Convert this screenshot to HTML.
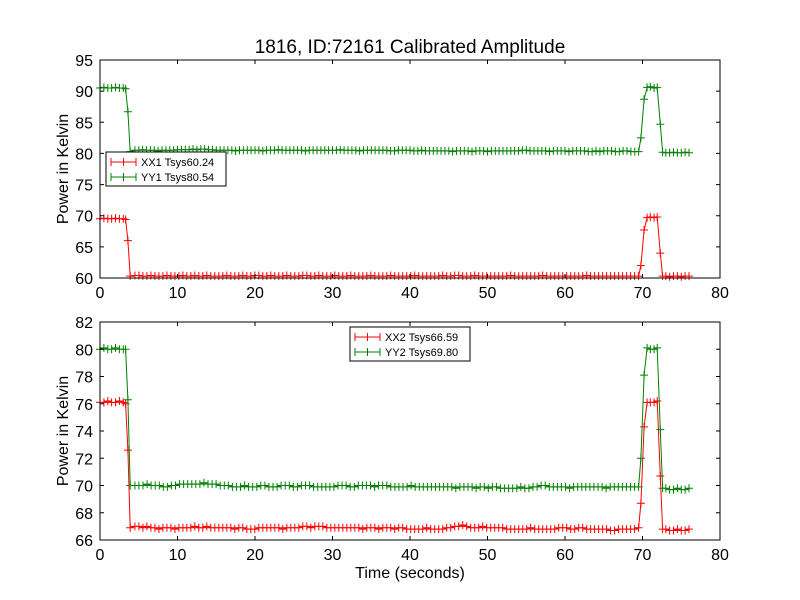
<!DOCTYPE html>
<html><head><meta charset="utf-8"><style>
body{margin:0;background:#fff}
svg{display:block;font-family:"Liberation Sans",sans-serif}
</style></head><body>
<svg id="c" width="800" height="600"></svg>
<script>
const tHead=[0,0.5,1,1.5,2,2.5,3,3.3,3.6,3.9];
const tTail=[69.8,70.2,70.6,71.0,71.5,71.9,72.3,72.6,73,73.5,74,74.5,75,75.5,76];
const tMidStart=4.5, tMidEnd=69.5;
const xx1=[69.5,69.6,69.5,69.5,69.6,69.5,69.5,69.4,66.0,60.3,
60.4,60.4,60.3,60.3,60.4,60.3,60.3,60.3,60.4,60.3,60.3,60.3,60.4,60.3,60.3,60.4,60.3,60.3,60.4,60.3,60.3,60.3,60.3,60.4,60.3,60.3,60.3,60.4,60.3,60.3,60.4,60.4,60.3,60.3,60.4,60.3,60.3,60.3,60.4,60.3,60.3,60.3,60.4,60.4,60.3,60.3,60.4,60.3,60.3,60.3,60.4,60.3,60.3,60.3,60.4,60.3,60.3,60.3,60.3,60.4,60.3,60.3,60.3,60.3,60.4,60.3,60.3,60.3,60.3,60.3,60.4,60.3,60.3,60.3,60.3,60.3,60.3,60.4,60.3,60.3,60.4,60.4,60.3,60.3,60.3,60.4,60.3,60.3,60.3,60.3,60.3,60.3,60.3,60.3,60.4,60.3,60.3,60.3,60.3,60.3,60.3,60.3,60.4,60.3,60.3,60.3,60.3,60.3,60.3,60.3,60.3,60.3,60.3,60.4,60.3,60.3,60.3,60.3,60.3,60.3,60.3,60.3,60.3,60.3,60.3,60.3,60.3,
62.0,67.7,69.7,69.8,69.7,69.8,64.0,60.3,60.3,60.2,60.3,60.3,60.2,60.3,60.3];
const yy1=[90.5,90.6,90.5,90.5,90.6,90.5,90.5,90.4,86.7,80.3,
80.5,80.5,80.6,80.5,80.5,80.5,80.4,80.5,80.5,80.5,80.5,80.6,80.6,80.6,80.6,80.7,80.6,80.7,80.7,80.6,80.6,80.5,80.5,80.5,80.5,80.5,80.4,80.5,80.5,80.5,80.5,80.5,80.5,80.4,80.5,80.5,80.5,80.6,80.5,80.5,80.5,80.5,80.5,80.5,80.4,80.5,80.5,80.5,80.5,80.5,80.5,80.5,80.5,80.6,80.5,80.5,80.5,80.5,80.4,80.5,80.5,80.5,80.5,80.5,80.5,80.5,80.4,80.4,80.5,80.5,80.5,80.5,80.4,80.4,80.5,80.4,80.4,80.4,80.4,80.4,80.4,80.4,80.3,80.4,80.4,80.4,80.4,80.3,80.4,80.4,80.4,80.3,80.4,80.4,80.4,80.4,80.4,80.4,80.4,80.4,80.5,80.5,80.4,80.4,80.4,80.4,80.4,80.3,80.4,80.4,80.4,80.4,80.3,80.4,80.4,80.4,80.4,80.3,80.3,80.4,80.3,80.4,80.4,80.4,80.3,80.3,80.4,80.4,80.3,80.3,80.3,
82.5,88.7,90.6,90.7,90.5,90.6,84.7,80.2,80.1,80.1,80.2,80.1,80.1,80.2,80.1];
const xx2=[76.1,76.1,76.2,76.1,76.1,76.2,76.1,76.0,72.6,66.9,
67.0,67.0,66.9,67.0,66.9,66.9,66.8,66.9,66.9,66.9,66.8,66.9,66.9,66.9,66.9,67.0,66.9,66.9,67.0,66.9,66.9,66.9,66.9,66.9,66.9,66.8,66.9,66.9,66.8,66.8,66.8,66.9,66.9,66.9,66.9,66.9,66.9,66.8,66.9,66.9,66.9,66.9,67.0,67.0,66.9,67.0,67.0,67.0,66.9,66.9,66.9,66.9,66.9,66.9,66.9,66.9,66.9,66.8,66.9,66.9,66.9,66.8,66.9,66.9,66.9,66.8,66.9,66.9,66.8,66.8,66.8,66.8,66.8,66.9,66.8,66.8,66.8,66.8,66.9,66.9,67.0,67.0,67.1,67.0,66.9,66.9,66.9,67.0,66.9,66.9,66.9,66.9,66.9,66.8,66.8,66.8,66.8,66.8,66.8,66.9,66.8,66.8,66.8,66.8,66.8,66.8,66.9,66.9,66.9,66.8,66.8,66.9,66.9,66.8,66.8,66.8,66.8,66.8,66.8,66.7,66.7,66.8,66.8,66.8,66.8,66.8,66.9,
68.7,74.3,76.1,76.1,76.1,76.2,70.7,66.8,66.8,66.7,66.7,66.8,66.7,66.7,66.8];
const yy2=[80.0,80.1,80.0,80.0,80.1,80.0,80.0,80.0,76.3,70.0,
70.0,70.0,70.0,70.1,70.0,70.0,70.0,69.9,69.9,70.0,70.0,70.1,70.1,70.1,70.1,70.1,70.1,70.2,70.1,70.1,70.1,70.0,70.0,70.0,69.9,69.9,69.9,70.0,69.9,69.9,69.9,70.0,70.0,69.9,69.9,69.9,70.0,70.0,70.0,69.9,69.9,70.0,70.0,70.0,69.9,69.9,69.9,69.9,69.9,69.9,70.0,70.0,70.0,69.9,69.9,70.0,70.0,70.0,70.0,69.9,70.0,70.0,70.0,69.9,69.9,69.9,69.9,69.9,70.0,69.9,69.9,69.9,69.9,69.9,69.9,69.9,69.9,69.9,69.9,69.8,69.9,69.9,69.9,69.9,69.8,69.9,69.9,69.8,69.9,69.9,69.8,69.8,69.8,69.8,69.8,69.9,69.8,69.8,69.9,69.9,70.0,70.0,69.9,69.9,69.9,69.9,69.9,69.8,69.9,69.9,69.9,69.9,69.9,69.9,69.9,69.9,69.8,69.9,69.9,69.9,69.9,69.9,69.9,69.9,69.9,
72.0,78.1,80.1,80.0,80.0,80.1,74.1,69.8,69.8,69.7,69.7,69.8,69.7,69.7,69.8];
const xTicks=[0,10,20,30,40,50,60,70,80];
const yTicksTop=[60,65,70,75,80,85,90,95];
const yTicksBot=[66,68,70,72,74,76,78,80,82];
const NS='http://www.w3.org/2000/svg';
const svg=document.getElementById('c');
function timeAt(i,n){
 const h=tHead.length,tl=tTail.length;
 if(i<h)return tHead[i];
 if(i>=n-tl)return tTail[i-(n-tl)];
 const m=n-h-tl;return tMidStart+(i-h)*(tMidEnd-tMidStart)/(m-1);
}
function mk(tag,at,parent){const e=document.createElementNS(NS,tag);for(const k in at)e.setAttribute(k,at[k]);(parent||svg).appendChild(e);return e;}
function txt(s,at,name){const e=mk('text',at);e.textContent=s;


return e;}
function panel(y0,y1,ymin,ymax,yTicks,series,legend,name){
 const X=v=>100+(v-0)/(80-0)*620;
 const Y=v=>y1-(v-ymin)/(ymax-ymin)*(y1-y0);
 const g=mk('g',{});
 
 
 series.forEach(s=>{
  const n=s.v.length;
  let d='';s.v.forEach((v,i)=>{d+=(i?'L':'M')+X(timeAt(i,n)).toFixed(1)+' '+Y(v).toFixed(1);});
  const p=mk('path',{d:d,fill:'none',stroke:s.c,'stroke-width':1},g);
  
  
  let m='';s.v.forEach((v,i)=>{const x=X(timeAt(i,n)),y=Y(v);m+='M'+(x-4).toFixed(1)+' '+y.toFixed(1)+'h8M'+x.toFixed(1)+' '+(y-4).toFixed(1)+'v8';});
  const mp=mk('path',{d:m,stroke:s.c,'stroke-width':1,fill:'none'},g);
  
  
 });
 const fr=mk('rect',{x:100,y:y0,width:620,height:y1-y0,fill:'none',stroke:'#000','stroke-width':1});
 
 
 xTicks.forEach(v=>{const x=X(v);mk('path',{d:`M${x} ${y1}v-4M${x} ${y0}v4`,stroke:'#000'});
  txt(v,{x:x,y:y1+20,'font-size':16,'text-anchor':'middle'},'x-tick-label');});
 yTicks.forEach(v=>{const y=Y(v);mk('path',{d:`M100 ${y}h4M720 ${y}h-4`,stroke:'#000'});
  txt(v,{x:93,y:y+6,'font-size':16,'text-anchor':'end'},'y-tick-label');});
 txt('Power in Kelvin',{x:0,y:0,'font-size':16,'text-anchor':'middle',transform:`translate(68 ${(y0+y1)/2}) rotate(-90)`},'y-axis-title');
 const lg=mk('g',{});
 
 
 mk('rect',{x:legend.x,y:legend.y,width:120,height:34,fill:'#fff',stroke:'#000'},lg);
 series.forEach((s,i)=>{const yy=legend.y+10+i*15;
  mk('path',{d:`M${legend.x+5} ${yy}h25M${legend.x+17.5} ${yy-4}v8M${legend.x+5} ${yy-4}v8M${legend.x+30} ${yy-4}v8`,stroke:s.c},lg);
  txt(s.label,{x:legend.x+35,y:yy+4,'font-size':11},'legend-entry');});
}
panel(60,278,60,95,yTicksTop,[{v:xx1,c:'#f00',n:'xx1',label:'XX1 Tsys60.24'},{v:yy1,c:'#008000',n:'yy1',label:'YY1 Tsys80.54'}],{x:106,y:152},'top-panel');
panel(322,540,66,82,yTicksBot,[{v:xx2,c:'#f00',n:'xx2',label:'XX2 Tsys66.59'},{v:yy2,c:'#008000',n:'yy2',label:'YY2 Tsys69.80'}],{x:350,y:327},'bottom-panel');
txt('1816, ID:72161 Calibrated Amplitude',{x:410,y:53,'font-size':19,'text-anchor':'middle'},'chart-title');
txt('Time (seconds)',{x:410,y:578,'font-size':16,'text-anchor':'middle'},'x-axis-title');
</script>
</body></html>
